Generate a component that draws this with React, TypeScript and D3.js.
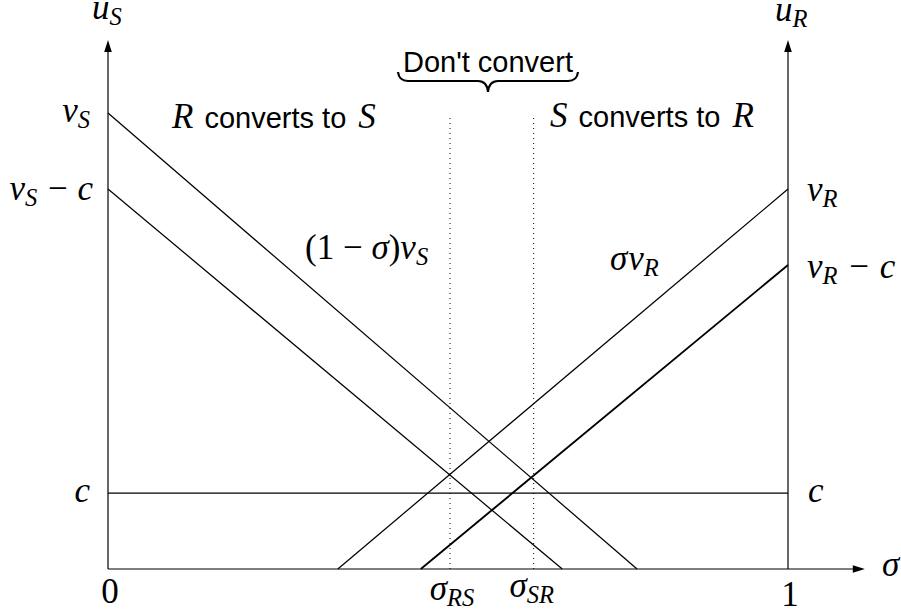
import React from "react";
import * as d3 from "d3";

// ---- data (units: c = 1) ----
const vS = 6;
const vR = 5;
const cost = 1;
// straight payoff lines: [sigma, value] endpoints
const lineNames = ["(1−σ)v_S", "v_S−c", "σv_R", "v_R−c", "c"];
const lineStarts: [number, number][] = [[0, vS], [0, vS - cost], [0.338, 0], [0.46, 0], [0, cost]];
const lineEnds: [number, number][] = [[0.778, 0], [0.668, 0], [1, vR], [1, vR - cost], [1, cost]];
const lineWidths = [1.25, 1.25, 1.25, 1.9, 1.25];
// threshold (dotted) positions
const thresholdNames = ["σ_RS", "σ_SR"];
const thresholds = [0.503, 0.626];
const thresholdTop = 5.97;

const W = 901;
const H = 616;

type Part = { t: string; it?: boolean; sub?: boolean; sans?: boolean; dx?: number };

const SERIF = "'Liberation Serif', 'Times New Roman', serif";
const SANS = "'Liberation Sans', Arial, sans-serif";
const MS = 35;

function MathText({ x, y, parts, anchor = "start", size = MS }: { x: number; y: number; parts: Part[]; anchor?: string; size?: number }) {
  let shift = 0;
  const sub = size * 0.17;
  return (
    <text x={x} y={y} textAnchor={anchor as any} fontSize={size} fontFamily={SERIF} fill="#000">
      {parts.map((p, i) => {
        const target = p.sub ? sub : 0;
        const dy = target - shift;
        shift = target;
        return (
          <tspan
            key={i}
            dy={dy}
            dx={p.dx ?? 0}
            fontStyle={p.it ? "italic" : "normal"}
            fontFamily={p.sans ? SANS : SERIF}
            fontSize={p.sub ? size * 0.7 : p.sans ? 29 : size}
          >
            {p.t}
          </tspan>
        );
      })}
    </text>
  );
}

export default function App() {
  const x = d3.scaleLinear().domain([0, 1]).range([108, 788]);
  const y = d3.scaleLinear().domain([0, 1]).range([569, 493]);
  const line = d3.line<[number, number]>().x((d) => x(d[0])).y((d) => y(d[1]));

  const xAxisEnd = 1.113;
  const yAxisEnd = 6.96;

  const arrowUp = (cx: number, tip: number) => `M${cx},${tip} L${cx - 3.8},${tip + 12} L${cx + 3.8},${tip + 12} Z`;
  const arrowRight = (tip: number, cy: number) => `M${tip},${cy} L${tip - 12},${cy - 3.8} L${tip - 12},${cy + 3.8} Z`;

  // brace
  const bL = 398, bR = 578, bTop = 72, bMid = (bL + bR) / 2, bY = 81, bTip = 92;
  const brace = `M${bL},${bTop} Q${bL + 1},${bY} ${bL + 10},${bY} L${bMid - 10},${bY} Q${bMid - 1},${bY} ${bMid},${bTip} Q${bMid + 1},${bY} ${bMid + 10},${bY} L${bR - 10},${bY} Q${bR - 1},${bY} ${bR},${bTop}`;

  return (
    <svg width={W} height={H} viewBox={`0 0 ${W} ${H}`} style={{ position: "absolute", left: 0, top: 0, background: "#fff" }}>
      <rect width={W} height={H} fill="#fff" />
      {/* axes */}
      <line x1={x(0)} y1={y(0)} x2={x(0)} y2={y(yAxisEnd) + 10} stroke="#000" strokeWidth={1.2} />
      <path d={arrowUp(x(0), y(yAxisEnd))} fill="#000" />
      <line x1={x(1)} y1={y(0)} x2={x(1)} y2={y(yAxisEnd) + 10} stroke="#000" strokeWidth={1.2} />
      <path d={arrowUp(x(1), y(yAxisEnd))} fill="#000" />
      <line x1={x(0)} y1={y(0)} x2={x(xAxisEnd) - 10} y2={y(0)} stroke="#000" strokeWidth={1.2} />
      <path d={arrowRight(x(xAxisEnd), y(0))} fill="#000" />

      {/* dotted thresholds */}
      {thresholds.map((t, i) => (
        <line key={thresholdNames[i]} x1={x(t)} y1={y(0)} x2={x(t)} y2={y(thresholdTop)} stroke="#000" strokeWidth={1} strokeDasharray="1 4" />
      ))}

      {/* payoff lines */}
      {lineNames.map((n, i) => (
        <path key={n} d={line([lineStarts[i], lineEnds[i]]) || ""} stroke="#000" strokeWidth={lineWidths[i]} fill="none" />
      ))}

      {/* brace */}
      <path d={brace} stroke="#000" strokeWidth={2.2} fill="none" />
      <text x={bMid} y={72} textAnchor="middle" fontFamily={SANS} fontSize={29}>Don't convert</text>

      {/* region labels */}
      <MathText x={172} y={128} parts={[{ t: "R", it: true }, { t: " converts to ", sans: true, dx: 3 }, { t: "S", it: true, dx: 4 }]} />
      <MathText x={550} y={127} parts={[{ t: "S", it: true }, { t: " converts to ", sans: true, dx: 3 }, { t: "R", it: true, dx: 4 }]} />

      {/* axis titles */}
      <MathText x={92} y={19} parts={[{ t: "u", it: true }, { t: "S", it: true, sub: true }]} />
      <MathText x={775} y={21} parts={[{ t: "u", it: true }, { t: "R", it: true, sub: true }]} />
      <MathText x={882} y={576} parts={[{ t: "σ", it: true }]} />

      {/* left labels */}
      <MathText x={90} y={122} anchor="end" parts={[{ t: "v", it: true }, { t: "S", it: true, sub: true }]} />
      <MathText x={93} y={200} anchor="end" parts={[{ t: "v", it: true }, { t: "S", it: true, sub: true }, { t: " − ", dx: 2 }, { t: "c", it: true, dx: 1 }]} />
      <MathText x={90} y={502} anchor="end" parts={[{ t: "c", it: true }]} />

      {/* right labels */}
      <MathText x={807} y={201} parts={[{ t: "v", it: true }, { t: "R", it: true, sub: true }]} />
      <MathText x={807} y={278} parts={[{ t: "v", it: true }, { t: "R", it: true, sub: true }, { t: " − ", dx: 3 }, { t: "c", it: true, dx: 2 }]} />
      <MathText x={808} y={502} parts={[{ t: "c", it: true }]} />

      {/* line labels */}
      <MathText x={610} y={270} parts={[{ t: "σ", it: true }, { t: "v", it: true, dx: 1 }, { t: "R", it: true, sub: true }]} />
      <MathText x={305} y={259} parts={[{ t: "(1 − " }, { t: "σ", it: true }, { t: ")" }, { t: "v", it: true }, { t: "S", it: true, sub: true }]} />

      {/* x tick labels */}
      <MathText x={x(0) + 2} y={603} anchor="middle" parts={[{ t: "0" }]} />
      <MathText x={x(1) + 2} y={606} anchor="middle" parts={[{ t: "1" }]} />
      <MathText x={x(thresholds[0]) + 2} y={600} anchor="middle" parts={[{ t: "σ", it: true }, { t: "RS", it: true, sub: true }]} />
      <MathText x={x(thresholds[1]) - 2} y={597} anchor="middle" parts={[{ t: "σ", it: true }, { t: "SR", it: true, sub: true }]} />
    </svg>
  );
}
